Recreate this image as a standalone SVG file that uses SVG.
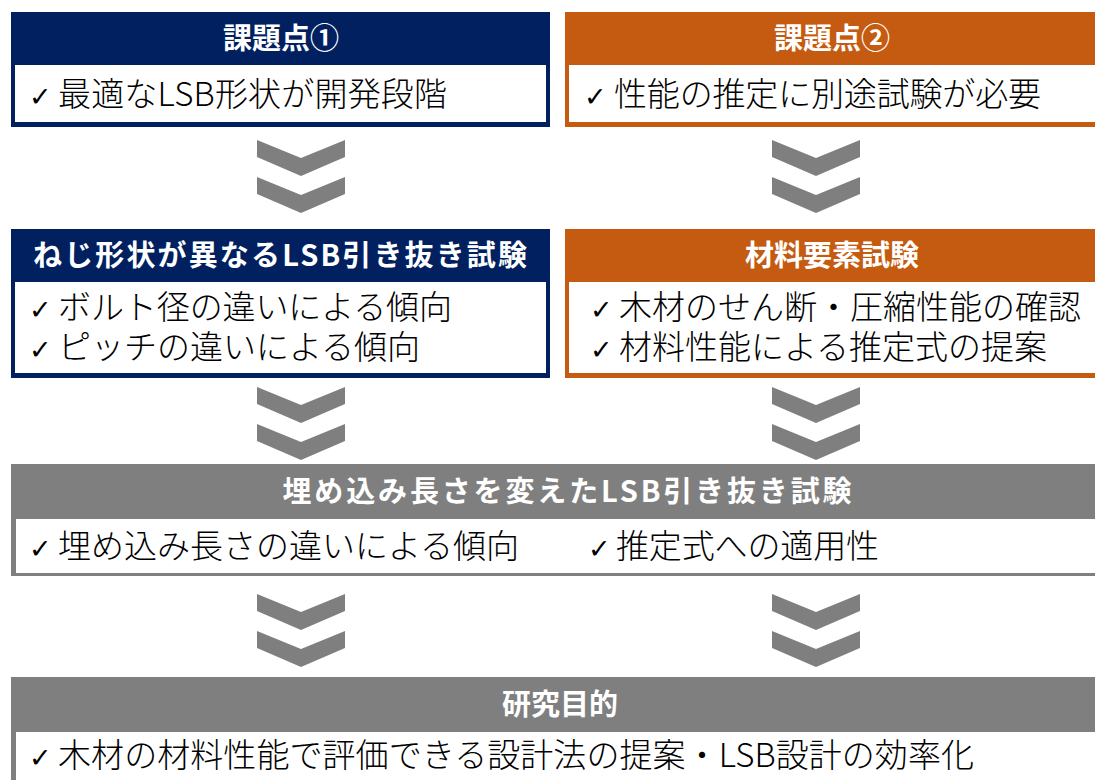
<svg xmlns="http://www.w3.org/2000/svg" width="1095" height="780" viewBox="0 0 1095 780">
<defs>
<style>
.navy{fill:#002060}
.orange{fill:#C55A11}
.gray{fill:#7F7F7F}
.white{fill:#FFFFFF}
.title{font-family:"Noto Sans CJK JP","Noto Sans",sans-serif;font-weight:bold;font-size:29px;fill:#FFFFFF;text-anchor:middle}
.body{font-family:"Noto Sans CJK JP","Noto Sans",sans-serif;font-weight:300;font-size:33px;fill:#000000}
.ck{font-family:"DejaVu Sans",sans-serif;font-weight:normal;font-size:27px;fill:#000000}
.chev{fill:#7F7F7F}
</style>
</defs>
<rect width="1095" height="780" fill="#FFFFFF"/>

<g id="connectors">
  <g transform="translate(301,140)"><polygon class="chev" points="-44,0 0,18 44,0 44,17 0,36 -44,17"/><polygon class="chev" points="-44,37 0,55 44,37 44,54 0,73 -44,54"/></g>
  <g transform="translate(816,140)"><polygon class="chev" points="-44,0 0,18 44,0 44,17 0,36 -44,17"/><polygon class="chev" points="-44,37 0,55 44,37 44,54 0,73 -44,54"/></g>
  <g transform="translate(301,387)"><polygon class="chev" points="-44,0 0,18 44,0 44,17 0,36 -44,17"/><polygon class="chev" points="-44,37 0,55 44,37 44,54 0,73 -44,54"/></g>
  <g transform="translate(816,387)"><polygon class="chev" points="-44,0 0,18 44,0 44,17 0,36 -44,17"/><polygon class="chev" points="-44,37 0,55 44,37 44,54 0,73 -44,54"/></g>
  <g transform="translate(301,594)"><polygon class="chev" points="-44,0 0,18 44,0 44,17 0,36 -44,17"/><polygon class="chev" points="-44,37 0,55 44,37 44,54 0,73 -44,54"/></g>
  <g transform="translate(816,594)"><polygon class="chev" points="-44,0 0,18 44,0 44,17 0,36 -44,17"/><polygon class="chev" points="-44,37 0,55 44,37 44,54 0,73 -44,54"/></g>
</g>

<g id="issue1">
  <rect class="navy" x="11" y="12" width="539" height="115"/>
  <rect class="white" x="15" y="65" width="531" height="57"/>
  <text class="title" x="281" y="49">課題点①</text>
  <text class="body" y="106"><tspan class="ck" x="29">✓</tspan><tspan x="58" textLength="389" lengthAdjust="spacing">最適なLSB形状が開発段階</tspan></text>
</g>

<g id="issue2">
  <rect class="orange" x="565" y="12" width="540" height="115"/>
  <rect class="white" x="569" y="65" width="540" height="57"/>
  <text class="title" x="832" y="49">課題点②</text>
  <text class="body" y="106"><tspan class="ck" x="584">✓</tspan><tspan x="614" textLength="427" lengthAdjust="spacing">性能の推定に別途試験が必要</tspan></text>
</g>

<g id="test-screw">
  <rect class="navy" x="11" y="229" width="539" height="149"/>
  <rect class="white" x="15" y="282" width="531" height="91"/>
  <text class="title" x="280" y="266" textLength="494" lengthAdjust="spacing">ねじ形状が異なるLSB引き抜き試験</text>
  <text class="body" y="319"><tspan class="ck" x="29">✓</tspan><tspan x="58" textLength="394" lengthAdjust="spacing">ボルト径の違いによる傾向</tspan></text>
  <text class="body" y="359"><tspan class="ck" x="29">✓</tspan><tspan x="58" textLength="362" lengthAdjust="spacing">ピッチの違いによる傾向</tspan></text>
</g>

<g id="test-material">
  <rect class="orange" x="565" y="229" width="540" height="149"/>
  <rect class="white" x="569" y="282" width="540" height="91"/>
  <text class="title" x="832" y="266">材料要素試験</text>
  <text class="body" y="319"><tspan class="ck" x="590">✓</tspan><tspan x="619" textLength="462" lengthAdjust="spacing">木材のせん断・圧縮性能の確認</tspan></text>
  <text class="body" y="359"><tspan class="ck" x="590">✓</tspan><tspan x="619" textLength="428" lengthAdjust="spacing">材料性能による推定式の提案</tspan></text>
</g>

<g id="test-embed">
  <rect class="gray" x="11" y="464" width="1112" height="112"/>
  <rect class="white" x="16" y="519" width="1107" height="54"/>
  <text class="title" x="567" y="502" textLength="569" lengthAdjust="spacing">埋め込み長さを変えたLSB引き抜き試験</text>
  <text class="body" y="558"><tspan class="ck" x="29">✓</tspan><tspan x="58" textLength="461" lengthAdjust="spacing">埋め込み長さの違いによる傾向</tspan><tspan class="ck" x="588">✓</tspan><tspan x="616" textLength="263" lengthAdjust="spacing">推定式への適用性</tspan></text>
</g>

<g id="purpose">
  <rect class="gray" x="11" y="677" width="1112" height="110"/>
  <rect class="white" x="16" y="732" width="1107" height="60"/>
  <text class="title" x="560" y="715">研究目的</text>
  <text class="body" y="767"><tspan class="ck" x="29">✓</tspan><tspan x="58" textLength="916" lengthAdjust="spacing">木材の材料性能で評価できる設計法の提案・LSB設計の効率化</tspan></text>
</g>
</svg>
